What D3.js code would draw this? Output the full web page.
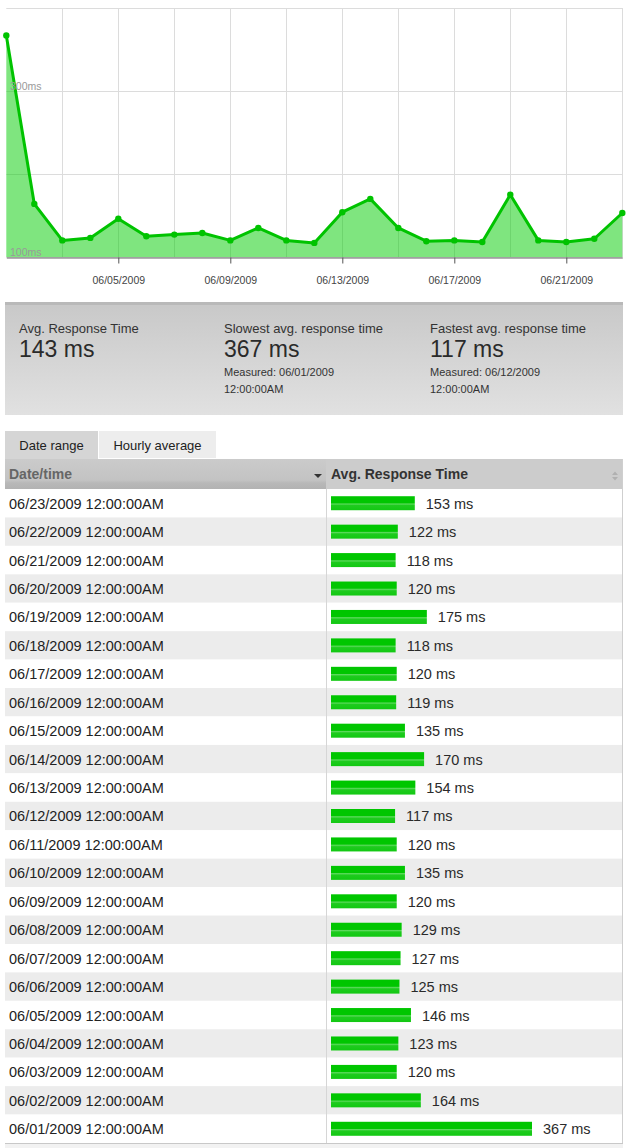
<!DOCTYPE html>
<html>
<head>
<meta charset="utf-8">
<script src="https://cdn.jsdelivr.net/npm/d3@7"></script>
<style>
  body { margin: 0; background: #fff; }
  svg { display: block; font-family: "Liberation Sans", Arial, Helvetica, sans-serif; }
</style>
</head>
<body>
<script>
'use strict';

// data
const dates = ["06/01/2009","06/02/2009","06/03/2009","06/04/2009","06/05/2009","06/06/2009",
  "06/07/2009","06/08/2009","06/09/2009","06/10/2009","06/11/2009","06/12/2009","06/13/2009",
  "06/14/2009","06/15/2009","06/16/2009","06/17/2009","06/18/2009","06/19/2009","06/20/2009",
  "06/21/2009","06/22/2009","06/23/2009"];
const responseMs = [367,164,120,123,146,125,127,129,120,135,120,117,154,170,135,119,120,118,175,120,118,122,153];
const yGridValues = [100, 200, 300, 400];
const yLabelValues = [100, 300];
const xLabelDates = ["06/05/2009","06/09/2009","06/13/2009","06/17/2009","06/21/2009"];
const timeSuffix = "12:00:00AM";

const width = 627, height = 1148;
const parse = d3.timeParse("%m/%d/%Y");
const fmt = d3.timeFormat("%m/%d/%Y");
const rows = dates.map((d, i) => ({date: parse(d), label: d, value: responseMs[i]}));

const svg = d3.select('body').append('svg')
  .attr('width', width)
  .attr('height', height);

const defs = svg.append('defs');
function vgrad(id, stops) {
  let g = defs.append('linearGradient').attr('id', id)
    .attr('x1', 0).attr('y1', 0).attr('x2', 0).attr('y2', 1);
  stops.forEach(s => g.append('stop').attr('offset', s[0]).attr('stop-color', s[1]));
}
vgrad('panelGrad', [[0, '#c8c8c8'], [1, '#e1e1e1']]);
vgrad('headGrad', [[0, '#cbcbcb'], [0.7, '#c3c3c3'], [0.8, '#b8b8b8'], [1, '#b2b2b2']]);
vgrad('barGrad', [[0, '#00c600'], [0.48, '#00c600'], [0.55, '#5ed95e'], [0.66, '#1ecb1e'], [1, '#12c812']]);

// ---------- top area chart ----------
const chartTop = 8, chartBottom = 257, chartLeft = 6.3, chartRight = 622.3;

const x = d3.scaleTime()
  .domain(d3.extent(rows, d => d.date))
  .range([chartLeft, chartRight]);
const y = d3.scaleLinear()
  .domain([100, 400])
  .range([chartBottom, chartTop]);

const chart = svg.append('g');

// horizontal grid
chart.append('g')
  .selectAll('line').data(yGridValues).join('line')
  .attr('x1', chartLeft).attr('x2', chartRight)
  .attr('y1', d => Math.round(y(d)) + 0.5).attr('y2', d => Math.round(y(d)) + 0.5)
  .attr('stroke', '#dcdcdc');

// vertical grid every second day
const gridDays = d3.timeDay.range(d3.timeDay.offset(x.domain()[0], 2), d3.timeDay.offset(x.domain()[1], 1), 2);
chart.append('g')
  .selectAll('line').data(gridDays).join('line')
  .attr('x1', d => Math.round(x(d)) + 0.5).attr('x2', d => Math.round(x(d)) + 0.5)
  .attr('y1', chartTop).attr('y2', chartBottom)
  .attr('stroke', '#dcdcdc');

const area = d3.area()
  .x(d => x(d.date))
  .y0(chartBottom)
  .y1(d => y(d.value));
const line = d3.line()
  .x(d => x(d.date))
  .y(d => y(d.value));

chart.append('path')
  .datum(rows)
  .attr('d', area)
  .attr('fill', '#00cc00')
  .attr('fill-opacity', 0.5);

chart.append('path')
  .datum(rows)
  .attr('d', line)
  .attr('fill', 'none')
  .attr('stroke', '#00c300')
  .attr('stroke-width', 3)
  .attr('stroke-linejoin', 'round');

chart.append('g')
  .selectAll('circle').data(rows).join('circle')
  .attr('cx', d => x(d.date))
  .attr('cy', d => y(d.value))
  .attr('r', 3.2)
  .attr('fill', '#00c300');

// x axis
const xAxis = chart.append('g')
  .attr('transform', `translate(0,${chartBottom + 0.5})`)
  .call(d3.axisBottom(x)
    .tickValues(xLabelDates.map(parse))
    .tickFormat(fmt)
    .tickSize(6)
    .tickSizeOuter(0)
    .tickPadding(13));
xAxis.select('.domain').attr('stroke', '#666').attr('stroke-width', 1.2);
xAxis.selectAll('.tick line').attr('stroke', '#555');
xAxis.selectAll('.tick text')
  .attr('fill', '#444')
  .style('font-size', '10.5px')
  .style('font-family', '"Liberation Sans", Arial, sans-serif');

// y labels inside the plot
chart.append('g')
  .selectAll('text').data(yLabelValues).join('text')
  .attr('x', 10)
  .attr('y', d => y(d) - 1.5)
  .attr('fill', '#999')
  .style('font-size', '10.5px')
  .text(d => d + 'ms');

// ---------- summary panel ----------
const panel = svg.append('g');
panel.append('rect')
  .attr('x', 5).attr('y', 302).attr('width', 618).attr('height', 113)
  .attr('fill', 'url(#panelGrad)');
panel.append('rect')
  .attr('x', 5).attr('y', 302).attr('width', 618).attr('height', 3)
  .attr('fill', '#b9b9b9');

const slowest = rows[d3.maxIndex(rows, d => d.value)];
const fastest = rows[d3.minIndex(rows, d => d.value)];
const stats = [
  {x: 19, title: 'Avg. Response Time', value: Math.round(d3.mean(rows, d => d.value))},
  {x: 224, title: 'Slowest avg. response time', value: slowest.value, when: slowest.label},
  {x: 430, title: 'Fastest avg. response time', value: fastest.value, when: fastest.label}
];
const statG = panel.selectAll('g.stat').data(stats).join('g')
  .attr('class', 'stat')
  .attr('transform', d => `translate(${d.x},0)`);
statG.append('text')
  .attr('y', 333).attr('fill', '#333')
  .style('font-size', '13px')
  .text(d => d.title);
statG.append('text')
  .attr('y', 357).attr('fill', '#2a2a2a')
  .style('font-size', '23px')
  .text(d => d.value + ' ms');
statG.filter(d => d.when).append('text')
  .attr('y', 376).attr('fill', '#333')
  .style('font-size', '11px')
  .text(d => 'Measured: ' + d.when);
statG.filter(d => d.when).append('text')
  .attr('y', 393).attr('fill', '#333')
  .style('font-size', '11px')
  .text(timeSuffix);

// ---------- tabs ----------
const tabs = [
  {label: 'Date range', x: 5, w: 93, fill: '#d5d5d5', h: 28},
  {label: 'Hourly average', x: 99, w: 117, fill: '#ededed', h: 27}
];
const tabG = svg.append('g').selectAll('g').data(tabs).join('g');
tabG.append('rect')
  .attr('x', d => d.x).attr('y', 431).attr('width', d => d.w).attr('height', d => d.h)
  .attr('fill', d => d.fill);
tabG.append('text')
  .attr('x', d => d.x + d.w / 2).attr('y', 450)
  .attr('text-anchor', 'middle')
  .attr('fill', '#222')
  .style('font-size', '13px')
  .text(d => d.label);

// ---------- table ----------
const tableLeft = 5, colSplit = 326, tableRight = 622, headTop = 459, bodyTop = 489, bodyBottom = 1143;

const head = svg.append('g');
head.append('rect')
  .attr('x', tableLeft).attr('y', headTop).attr('width', colSplit - tableLeft).attr('height', bodyTop - headTop)
  .attr('fill', 'url(#headGrad)');
head.append('rect')
  .attr('x', colSplit).attr('y', headTop).attr('width', tableRight - colSplit + 1).attr('height', bodyTop - headTop + 1)
  .attr('fill', '#cccccc');
head.append('text')
  .attr('x', 9).attr('y', 479)
  .attr('fill', '#666').attr('font-weight', 'bold')
  .style('font-size', '14px')
  .text('Date/time');
head.append('path')
  .attr('d', 'M314,474 h8 l-4,4 z')
  .attr('fill', '#333');
head.append('text')
  .attr('x', 331).attr('y', 479)
  .attr('fill', '#333').attr('font-weight', 'bold')
  .style('font-size', '14px')
  .text('Avg. Response Time');
head.append('path')
  .attr('d', 'M612,475 l3,-3.5 l3,3.5 z M612,477 l3,3.5 l3,-3.5 z')
  .attr('fill', '#b0b0b0');

const tableRows = rows.slice().reverse();
const rowY = d3.scaleBand()
  .domain(tableRows.map(d => d.label))
  .range([bodyTop, bodyBottom]);
const barW = d3.scaleLinear()
  .domain([0, d3.max(rows, d => d.value)])
  .range([0, 201]);

const body = svg.append('g');
const rowG = body.selectAll('g.row').data(tableRows).join('g')
  .attr('class', 'row')
  .attr('transform', d => `translate(0,${rowY(d.label)})`);
rowG.append('rect')
  .attr('x', tableLeft).attr('width', tableRight - tableLeft)
  .attr('height', rowY.bandwidth())
  .attr('fill', (d, i) => i % 2 ? '#ececec' : '#ffffff');
rowG.append('text')
  .attr('x', 9).attr('y', rowY.bandwidth() / 2 + 5.5)
  .attr('fill', '#222')
  .style('font-size', '14.5px')
  .text(d => d.label + ' ' + timeSuffix);
rowG.append('rect')
  .attr('x', 331).attr('y', rowY.bandwidth() / 2 - 7)
  .attr('width', d => barW(d.value)).attr('height', 14)
  .attr('fill', 'url(#barGrad)');
rowG.append('text')
  .attr('x', d => 331 + barW(d.value) + 11).attr('y', rowY.bandwidth() / 2 + 5.5)
  .attr('fill', '#2a2a2a')
  .style('font-size', '14.5px')
  .text(d => d.value + ' ms');

// borders
body.append('line')
  .attr('x1', colSplit + 0.5).attr('x2', colSplit + 0.5)
  .attr('y1', bodyTop).attr('y2', bodyBottom)
  .attr('stroke', '#d6d6d6');
body.append('line')
  .attr('x1', tableRight + 0.5).attr('x2', tableRight + 0.5)
  .attr('y1', headTop).attr('y2', bodyBottom)
  .attr('stroke', '#cfcfcf');
body.append('rect')
  .attr('x', tableLeft).attr('y', bodyBottom).attr('width', tableRight - tableLeft + 1).attr('height', height - bodyBottom)
  .attr('fill', '#f2f2f2');
body.append('line')
  .attr('x1', tableLeft).attr('x2', tableRight + 1)
  .attr('y1', bodyBottom + 0.5).attr('y2', bodyBottom + 0.5)
  .attr('stroke', '#c8c8c8');
</script>
</body>
</html>
